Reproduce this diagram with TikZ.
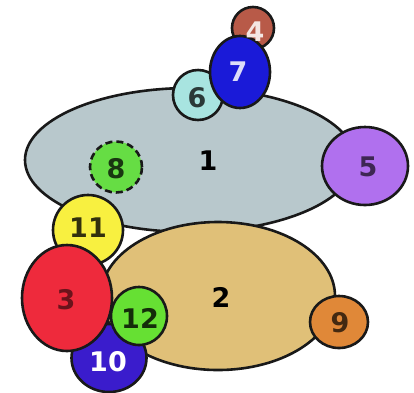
\documentclass[tikz,border=0pt]{standalone}
\usepackage{fontspec}
\setmainfont{DejaVu Sans}
\usetikzlibrary{shapes.geometric}
\definecolor{cA}{HTML}{B8C8CC}
\definecolor{cB}{HTML}{E0C078}
\definecolor{cC}{HTML}{EE2A3C}
\definecolor{cD}{HTML}{B85A48}
\definecolor{cE}{HTML}{B070EE}
\definecolor{cF}{HTML}{A8E4E0}
\definecolor{cG}{HTML}{1A1AD8}
\definecolor{cH}{HTML}{66DD44}
\definecolor{cI}{HTML}{E08838}
\definecolor{cJ}{HTML}{3A1CCC}
\definecolor{cK}{HTML}{F8F040}
\definecolor{cL}{HTML}{66E033}
\tikzset{
  blob/.style={ellipse, draw=black!90, line width=2.6pt, inner sep=0pt},
  lbl/.style={font=\bfseries\fontsize{27}{27}\selectfont, inner sep=0pt},
}
\begin{document}
\begin{tikzpicture}[x=1pt,y=-1pt]
\useasboundingbox (0,0) rectangle (414,392);
\fill[white] (0,0) rectangle (414,392);
\node[blob, fill=cA, minimum width=330pt, minimum height=144pt] (e1) at (190,160) {};
\node[blob, fill=cB, minimum width=234pt, minimum height=148pt] (e2) at (218,296) {};
\node[blob, fill=cI, minimum width=58pt, minimum height=52pt] (c9) at (339,322) {};
\node[blob, fill=cE, minimum width=86pt, minimum height=78pt] (c5) at (365,166) {};
\node[blob, fill=cD, minimum width=42pt, minimum height=42pt] (c4) at (253,28) {};
\node[blob, fill=cF, minimum width=50pt, minimum height=50pt] (c6) at (198,95) {};
\node[blob, fill=cG, minimum width=60pt, minimum height=72pt] (c7) at (240,72) {};
\node[blob, fill=cH, dashed, dash pattern=on 7pt off 4pt, minimum width=52pt, minimum height=51pt] (c8) at (116,167) {};
\node[blob, fill=cK, minimum width=70pt, minimum height=70pt] (c11) at (88,230) {};
\node[blob, fill=cJ, minimum width=75pt, minimum height=68pt] (c10) at (109,358) {};
\node[blob, fill=cC, minimum width=90pt, minimum height=106pt] (c3) at (67,298) {};
\node[blob, fill=cL, minimum width=56pt, minimum height=58pt] (c12) at (139,316) {};
\node[lbl] (t1) at (208,161) {1};
\node[lbl] (t2) at (221,297) {2};
\node[lbl, text=cC!45!black] (t3) at (66,300) {3};
\node[lbl, text=white!85!cD] (t4) at (255,32) {4};
\node[lbl, text=cE!35!black] (t5) at (368,167) {5};
\node[lbl, text=cF!25!black] (t6) at (197,98) {6};
\node[lbl, text=white!85!cG] (t7) at (238,72) {7};
\node[lbl, text=cH!25!black] (t8) at (116,169) {8};
\node[lbl, text=cI!30!black] (t9) at (340,323) {9};
\node[lbl, text=white] (t10) at (108,362) {10};
\node[lbl, text=cK!20!black] (t11) at (88,228) {11};
\node[lbl, text=cL!20!black] (t12) at (140,318) {12};
\end{tikzpicture}
\end{document}
